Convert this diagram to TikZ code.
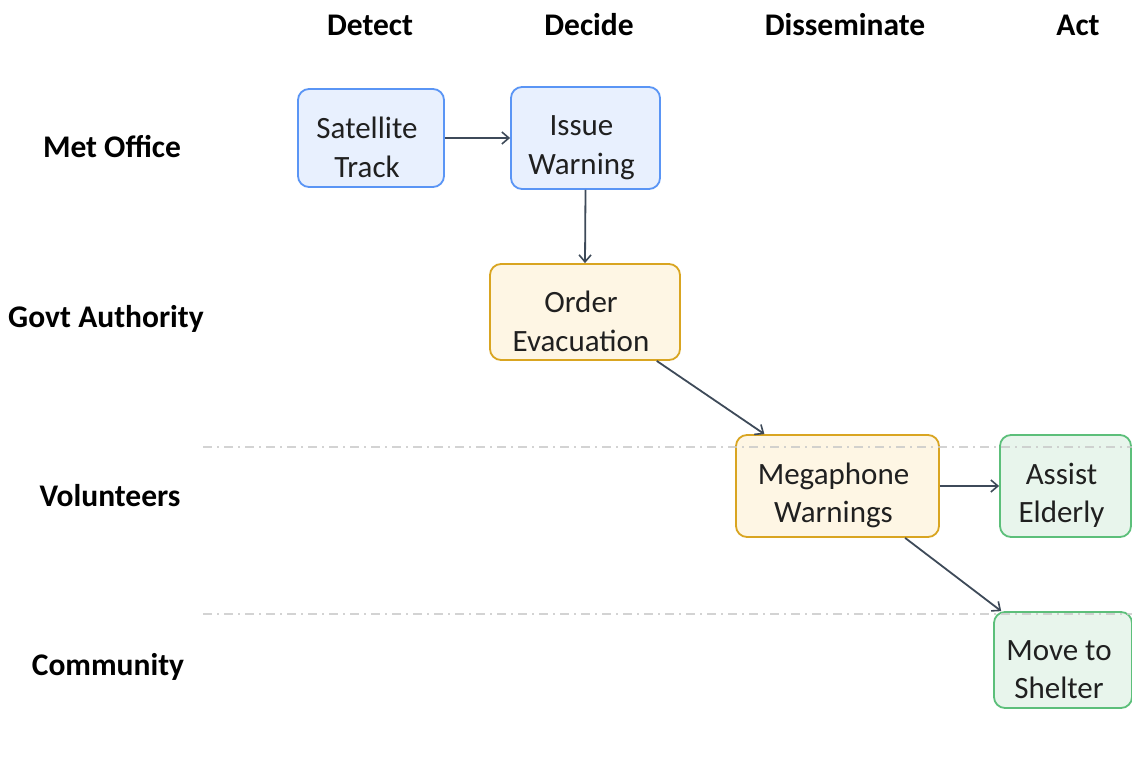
\documentclass[tikz,border=0pt]{standalone}
\usepackage{fontspec}
\setmainfont{Carlito}
\usetikzlibrary{arrows.meta,calc}
\definecolor{bluefill}{HTML}{E8F0FE}
\definecolor{blueline}{HTML}{5A95F5}
\definecolor{yelfill}{HTML}{FEF6E4}
\definecolor{yelline}{HTML}{D9A521}
\definecolor{grnfill}{HTML}{E8F5EC}
\definecolor{grnline}{HTML}{5CBF7A}
\definecolor{arrowc}{HTML}{3E4A59}
\definecolor{txt}{HTML}{202020}
\definecolor{lanec}{HTML}{C8C8C8}
\begin{document}
\begin{tikzpicture}[x=1pt,y=-1pt,
  box/.style={draw, line width=1.8pt, rounded corners=11pt, inner sep=0pt},
  boxtext/.style={align=center, font=\fontsize{31}{38.5}\selectfont, text=txt,
    inner sep=0pt, xshift=-4pt, yshift=-9.5pt},
  bluebox/.style={box, draw=blueline, fill=bluefill},
  yelbox/.style={box, draw=yelline, fill=yelfill},
  grnbox/.style={box, draw=grnline, fill=grnfill},
  hdr/.style={font=\fontsize{31.5}{36}\selectfont\bfseries, text=black, anchor=center},
  conn/.style={draw=arrowc, line width=1.8pt, -{Straight Barb[length=7pt,width=12pt,line width=1.6pt]}},
  lane/.style={draw=lanec, line width=1.4pt, dash pattern=on 9pt off 5pt on 2pt off 5pt}
]
\useasboundingbox (0,0) rectangle (1132,776);
\fill[white] (0,0) rectangle (1132,776);

% column headers
\node[hdr] (hdet) at (370,25) {Detect};
\node[hdr] (hdec) at (589,25) {Decide};
\node[hdr] (hdis) at (845,25) {Disseminate};
\node[hdr] (hact) at (1078,25) {Act};

% row labels
\node[hdr] (rmet) at (112,147) {Met Office};
\node[hdr] (rgov) at (106,319) {Govt Authority};
\node[hdr] (rvol) at (110,496) {Volunteers};
\node[hdr] (rcom) at (108,667) {Community};

% nodes
\node[bluebox, minimum width=146pt, minimum height=98pt,
  label={[boxtext]center:{Satellite\\Track}}] (sat) at (371,138) {};
\node[bluebox, minimum width=149pt, minimum height=102pt,
  label={[boxtext]center:{Issue\\Warning}}] (iss) at (585.5,138) {};
\node[yelbox, minimum width=190pt, minimum height=96pt,
  label={[boxtext]center:{Order\\Evacuation}}] (ord) at (585,312) {};
\node[yelbox, minimum width=203pt, minimum height=102pt,
  label={[boxtext]center:{Megaphone\\Warnings}}] (meg) at (837.5,486) {};
\node[grnbox, minimum width=131pt, minimum height=102pt,
  label={[boxtext]center:{Assist\\Elderly}}] (ass) at (1065.5,486) {};
\node[grnbox, minimum width=138pt, minimum height=96pt,
  label={[boxtext]center:{Move to\\Shelter}}] (mov) at (1063,660) {};

% lane separators
\coordinate (l1a) at (203,447);
\coordinate (l1b) at (1132,447);
\coordinate (l2a) at (203,614);
\coordinate (l2b) at (1132,614);
\draw[lane, opacity=0.8] (l1a) -- (l1b);
\draw[lane, opacity=0.8] (l2a) -- (l2b);

% connectors
\draw[conn] (sat.east) -- (iss.west);
\draw[conn] (iss.south) -- (ord.north);
\draw[conn] ($(ord.south west)!0.874!(ord.south east)$) -- ($(meg.north west)!0.143!(meg.north east)$);
\draw[conn] (meg.east) -- (ass.west);
\draw[conn] ($(meg.south west)!0.83!(meg.south east)$) -- ($(mov.north west)!0.058!(mov.north east)$);
\end{tikzpicture}
\end{document}
